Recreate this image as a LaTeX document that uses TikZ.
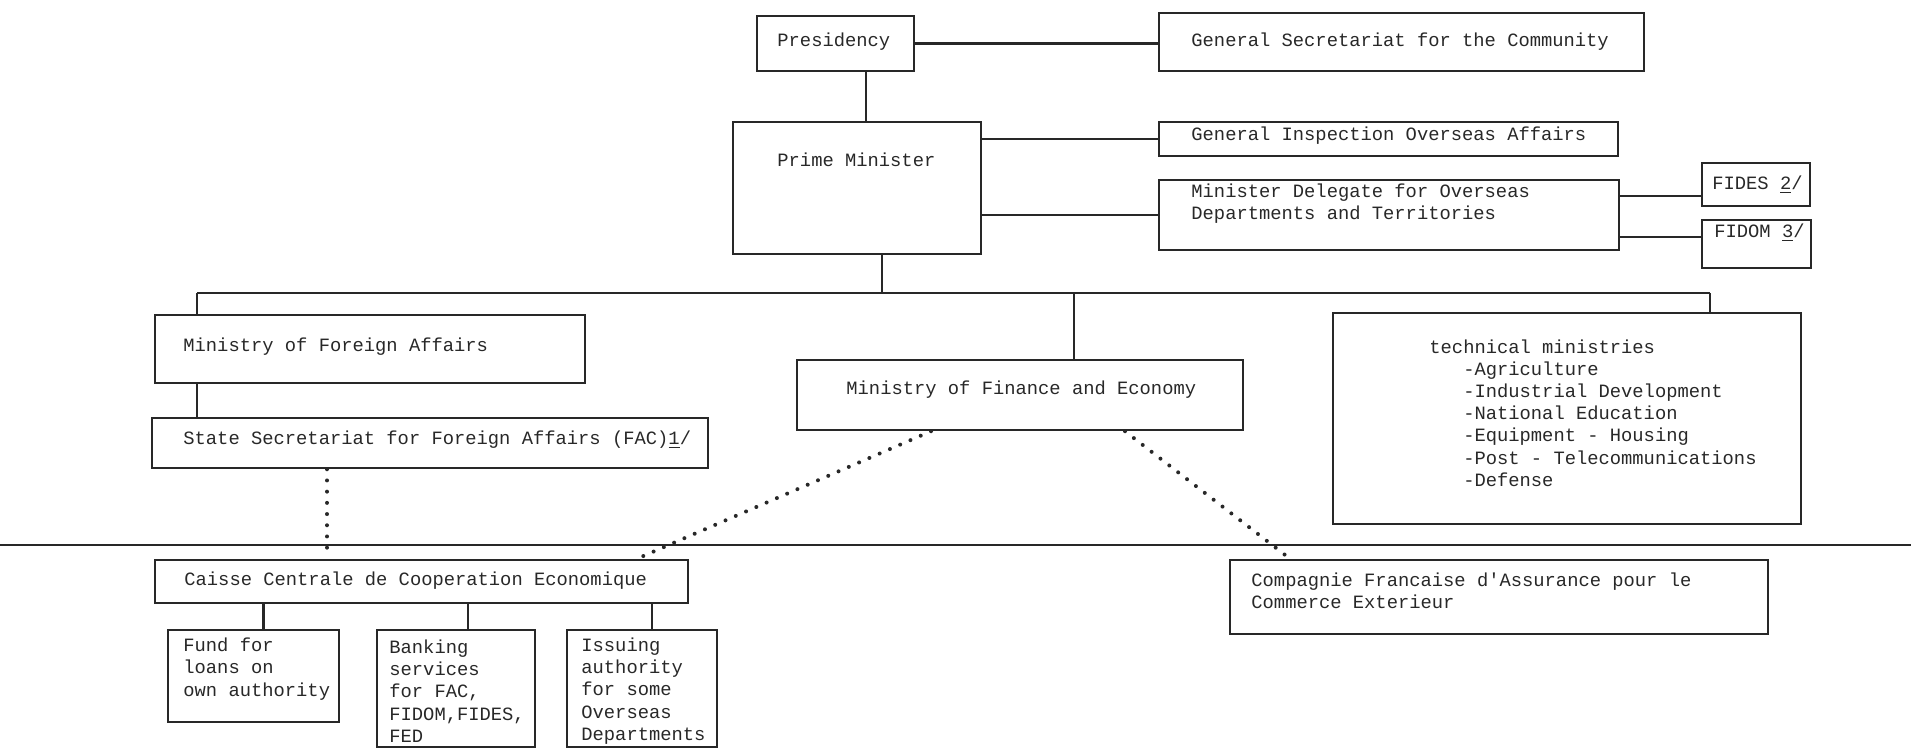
\documentclass[tikz,border=0pt]{standalone}
\usepackage{fontspec}
\setmonofont{Liberation Mono}
\usetikzlibrary{fit}
\definecolor{ink}{RGB}{40,40,40}

\begin{document}
\begin{tikzpicture}[x=0.5pt,y=-0.5pt,
  box/.style={draw=ink,line width=1.25pt,inner sep=0pt},
  lbl/.style={inner sep=0pt,anchor=west,align=left,text=ink,font=\ttfamily\fontsize{9.4}{11.1}\selectfont},
  link/.style={draw=ink,line width=1.05pt},
  dotlink/.style={draw=ink,line width=2pt,line cap=round,dash pattern=on 0pt off 5.6pt}]
\useasboundingbox (0,0) rectangle (1911,749);
\node[box,fit={(757,16) (914,71)}] (pres) {};
\node[lbl] (preslbl) at (777,42) {Presidency};
\node[box,fit={(1159,13) (1644,71)}] (gensec) {};
\node[lbl] (gensecl) at (1191,42) {General Secretariat for the Community};
\node[box,fit={(733,122) (981,254)}] (pm) {};
\node[lbl] (pmlbl) at (777,160) {Prime Minister};
\node[box,fit={(1159,122) (1618,156)}] (gi) {};
\node[lbl] (gilbl) at (1191,136) {General Inspection Overseas Affairs};
\node[box,fit={(1159,180) (1619,250)}] (md) {};
\node[lbl] (mdlbl) at (1191,204) {Minister Delegate for Overseas\\Departments and Territories};
\node[box,fit={(1702,163) (1810,206)}] (fides) {};
\node[lbl,anchor=east] (fideslbl) at (1803,185) {FIDES \underline{2}/};
\node[box,fit={(1702,220) (1811,268)}] (fidom) {};
\node[lbl,anchor=east] (fidomlbl) at (1805,233) {FIDOM \underline{3}/};
\draw[link] (pres.east) -- (pres.east -| gensec.west);
\draw[link] ([xshift=4.5pt]pm.north) -- ([xshift=4.5pt]pm.north |- pres.south);
\draw[link] (gi.west -| pm.east) -- (gi.west);
\draw[link] (md.west -| pm.east) -- (md.west);
\draw[link] ([yshift=-5.75pt]fides.west -| md.east) -- ([yshift=-5.75pt]fides.west);
\draw[link] ([yshift=3.5pt]fidom.west -| md.east) -- ([yshift=3.5pt]fidom.west);

\node[box,fit={(155,315) (585,383)}] (mfa) {};
\node[lbl] (mfalbl) at (183,347) {Ministry of Foreign Affairs};
\node[box,fit={(152,418) (708,468)}] (ssfa) {};
\node[lbl] (ssfalbl) at (183,440) {State Secretariat for Foreign Affairs (FAC)\underline{1}/};
\node[box,fit={(797,360) (1243,430)}] (mfe) {};
\node[lbl] (mfelbl) at (846,390) {Ministry of Finance and Economy};
\node[box,fit={(1333,313) (1801,524)}] (tech) {};
\node[lbl] (techlbl) at (1429,413) {technical ministries\\
  \phantom{xxx}-Agriculture\\
  \phantom{xxx}-Industrial Development\\
  \phantom{xxx}-National Education\\
  \phantom{xxx}-Equipment - Housing\\
  \phantom{xxx}-Post - Telecommunications\\
  \phantom{xxx}-Defense};
\coordinate (left) at (197,293);
\coordinate (hub) at (882,293);
\coordinate (mid) at (1074,293);
\coordinate (right) at (1710,293);
\draw[link] (left) -- (right);
\draw[link] (hub) -- (hub |- pm.south);
\draw[link] (left) -- (left |- mfa.north);
\draw[link] (mid) -- (mid |- mfe.north);
\draw[link] (right) -- (right |- tech.north);
\draw[link] (left |- mfa.south) -- (left |- ssfa.north);

\draw[ink,line width=1.25pt] (0,545) -- (1911,545);

\node[box,fit={(155,560) (688,603)}] (caisse) {};
\node[lbl] (caisselbl) at (184,581) {Caisse Centrale de Cooperation Economique};
\node[box,fit={(168,630) (339,722)}] (fund) {};
\node[lbl] (fundlbl) at (183,669) {Fund for\\loans on\\own authority};
\node[box,fit={(377,630) (535,747)}] (bank) {};
\node[lbl] (banklbl) at (389,691) {Banking\\services\\for FAC,\\FIDOM,FIDES,\\FED};
\node[box,fit={(567,630) (717,747)}] (issue) {};
\node[lbl] (issuelbl) at (581,691) {Issuing\\authority\\for some\\Overseas\\Departments};
\node[box,fit={(1230,560) (1768,634)}] (cfa) {};
\node[lbl] (cfalbl) at (1251,591) {Compagnie Francaise d'Assurance pour le\\Commerce Exterieur};
\draw[link] ([xshift=5pt]fund.north) -- ([xshift=5pt]fund.north |- caisse.south);
\draw[link] ([xshift=6pt]bank.north) -- ([xshift=6pt]bank.north |- caisse.south);
\draw[link] ([xshift=5pt]issue.north) -- ([xshift=5pt]issue.north |- caisse.south);

\coordinate (fac) at (327,500);
\draw[dotlink] (ssfa.south -| fac) -- (caisse.north -| fac);
\draw[dotlink] ([xshift=-44.5pt]mfe.south) -- ([xshift=107.75pt]caisse.north);
\draw[dotlink] ([xshift=52.5pt]mfe.south) -- ([xshift=-104.5pt]cfa.north);
\end{tikzpicture}
\end{document}
